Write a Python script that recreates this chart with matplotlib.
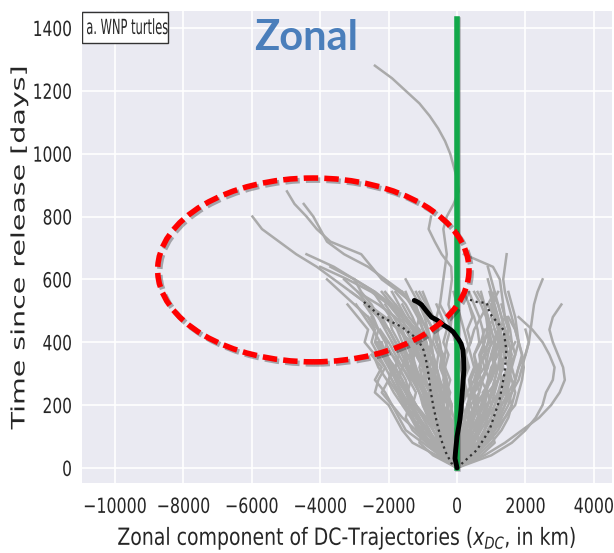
import matplotlib
matplotlib.use("Agg")
import matplotlib.pyplot as plt
import matplotlib.patheffects as pe
from matplotlib.patches import Ellipse, Rectangle
from matplotlib.transforms import Affine2D

STEP = 40  # days between stored positions of each gray track

# westward tracks reaching into the circled area (x in km, every 40 days)
west_tracks = [
    [0, -120, -260, -380, -450, -600, -720, -800, -950, -1100, -1350, -1700, -2150, -2600, -3100, -3600, -4100, -4700, -5200, -5700, -5980],
    [0, 80, -50, -200, -300, -280, -450, -520, -600, -700, -780, -900, -1050, -1250, -1700, -2200, -2500, -2800, -3700, -4100, -4400, -4750, -4970],
    [0, -60, -180, -250, -330, -400, -500, -620, -700, -820, -900, -1000, -1150, -1350, -1600, -2100, -2600, -3300, -3800, -4000, -4200, -4480],
    [0, -100, -250, -300, -450, -550, -600, -700, -850, -1000, -1200, -1400, -1700, -2000, -2400, -3000, -3700],
    [0, -40, -150, -300, -380, -500, -650, -700, -800, -900, -1050, -1250, -1500, -1900, -2400, -3000, -3600, -4400],
    [0, -80, -200, -350, -420, -480, -600, -750, -900, -1000, -1100, -1300, -1600, -2000, -2500, -3200, -4000],
    [0, -100, -250, -400, -500, -650, -800, -900, -1000, -1200, -1400, -1700, -2100, -2600, -3100],
    [0, -50, -150, -250, -400, -500, -600, -800, -1000, -1100, -1300, -1500, -1800, -2300, -2900, -3300],
    [0, -150, -300, -500, -700, -900, -1100, -1250, -1400, -1600, -1800, -2000, -2300, -2700],
    [0, -600, -1300, -1600, -1800, -2000, -2400, -2300, -2100, -2400, -2700, -2600, -2900, -3200],
    [0, -500, -1000, -1500, -1700, -1900, -2200, -2000, -1800, -2100, -2300],
    [0, -300, -800, -1200, -1100, -1400, -1600, -1800, -1600, -1500, -1800, -2000, -2200],
    [0, -400, -900, -1300, -1500, -1400, -1700, -1900],
    [0, -200, -500, -350, -650, -800, -700, -1000, -900, -1150, -1300, -1200, -1500, -1800, -2100],
    [0, -700, -1100, -1000, -1300, -1500, -1400, -1700, -1600, -1900],
    [0, -200, -450, -600, -800, -950, -1100, -1300, -1500, -1700, -1900, -2100, -2300, -2500, -2800, -3000],
    [0, -100, -300, -500, -700, -850, -1000, -1150, -1300, -1450, -1600, -1750, -1950, -2200, -2450],
    [0, -300, -600, -900, -1200, -1500, -1700, -1900, -2100, -2300, -2500, -2400, -2600],
    [0, -350, -800, -1200, -1600, -1900, -2100, -2400, -2200, -2500],
    [0, -250, -500, -700, -900, -1200, -1400, -1500, -1700, -1900, -2100, -2300, -2600, -3000, -3400, -3800],
    [0, -300, -650, -900, -1150, -1400, -1650, -1800, -2000, -2200, -2400, -2300, -2500],
    [0, -250, -550, -850, -1100, -1350, -1500, -1750, -1950, -2150, -2050, -2300, -2450, -2700],
    [0, -400, -750, -1050, -1300, -1550, -1750, -2000, -1900, -2150, -2350],
    [0, -150, -450, -700, -950, -1200, -1400, -1600, -1850, -2050, -2250, -2450, -2700, -2950],
    [0, -350, -600, -800, -1000, -1250, -1450, -1350, -1600, -1800, -2000, -2250],
    [0, -200, -350, -550, -750, -900, -1100, -1250, -1450, -1600, -1800, -2000, -2300, -2600, -2900],
    [0, -450, -850, -1150, -1350, -1600, -1850, -2050, -2300, -2450],
]

# tracks of the dense central fan
core_tracks = [
    [0, -100, -300, -400, -350, -500, -600, -700, -650, -800, -900, -1000, -1100, -1200],
    [0, 100, 50, -100, -200, -150, -300, -400, -350, -500, -600, -700, -900],
    [0, -200, -400, -500, -700, -900, -800, -1000, -1100, -1000, -1200, -1400],
    [0, 150, 300, 250, 400, 500, 450, 600, 700, 650, 800, 900, 850, 700, 500],
    [0, 200, 400, 600, 700, 900, 1000, 1100, 1200, 1300, 1200, 1100, 1000],
    [0, 300, 600, 800, 1000, 1100, 1200, 1400, 1500, 1400, 1300],
    [0, -50, -100, 0, 100, 50, 150, 200, 100, 50, -50, -150, -300, -500],
    [0, 50, 200, 300, 200, 300, 400, 350, 500, 400, 300, 200, 100, 0, -100],
    [0, -100, -50, -200, -300, -250, -400, -350, -500, -450, -600, -550, -700, -900, -1100],
    [0, 100, 200, 400, 500, 700, 800, 900, 1000, 1200, 1300, 1400, 1300, 1200, 1000, 900],
    [0, 200, 500, 700, 900, 1100, 1300, 1500, 1600, 1500, 1700],
    [0, -300, -500, -700, -800, -1000, -1100, -1300, -1200, -1400],
    [0, -100, -300, -600, -800, -900, -1000, -1200, -1400, -1500, -1700, -1900, -2000],
    [0, 300, 500, 400, 600, 800, 900, 700, 900, 1000, 1100, 1000, 900, 800, 600],
    [0, 100, 0, -100, -200, -400, -500, -600, -800, -1000, -1200, -1300, -1500, -1700, -1900],
    [0, -200, -100, -300, -400, -600, -500, -700, -900, -800, -1000],
    [0, 400, 700, 900, 1100, 1300, 1200, 1400, 1500, 1400, 1200, 1300, 1100, 900],
    [0, 200, 100, 300, 200, 400, 300, 500, 600, 500, 700, 800],
    [0, -150, -250, -100, -200, -300, -200, -350, -450, -400, -600, -700, -900, -1000, -1200],
    [0, 50, -50, 50, 150, 100, 250, 150, 300, 200, 400, 500, 700, 900, 1100],
    [0, -400, -700, -900, -1200, -1300, -1500, -1600, -1800, -1700, -1900],
    [0, -300, -600, -1000, -1100, -1300, -1200, -1400, -1600, -1500],
    [0, 300, 700, 1000, 1200, 1300, 1500, 1400, 1600, 1500, 1400],
    [0, 500, 900, 1200, 1400, 1600, 1700, 1600, 1500, 1700, 1600, 1400],
    [0, -100, -200, -400, -600, -700, -900, -1100, -1000, -1200, -1300, -1500, -1600, -1800],
    [0, 200, 300, 500, 700, 600, 800, 1000, 1100, 1000, 1200, 1300, 1200, 1100, 1000],
    [0, -200, -400, -300, -500, -700, -800, -600, -800, -1000, -900, -1100],
    [0, 100, 300, 200, 400, 300, 500, 700, 600, 800, 900, 1000, 900, 800],
    [0, -500, -800, -1100, -1300, -1200, -1500, -1700, -1900, -2100, -2200],
    [0, 600, 1000, 1300, 1500, 1600, 1500, 1700, 1600, 1500, 1400, 1500],
    [0, 300, 600, 800, 1000, 1200, 1400, 1500, 1600, 1700, 1800, 1750, 1700, 1600, 1500],
    [0, -250, -150, -400, -300, -550, -450, -700, -600, -850, -750, -1000],
    [0, 250, 150, 400, 300, 550, 450, 700, 600, 850, 750, 1000, 900],
    [0, -350, -200, -500, -650, -500, -800, -950, -800, -1100, -1250, -1100, -1400, -1600],
    [0, 350, 200, 500, 650, 500, 800, 950, 800, 1100, 1250, 1100],
    [0, -150, -300, -200, -450, -600, -500, -750, -900, -800, -1050, -1200, -1100, -1350, -1500],
    [0, 150, 300, 200, 450, 600, 500, 750, 900, 800, 1050, 1200, 1100, 1000],
    [0, -450, -650, -550, -850, -1000, -900, -1200, -1350, -1250, -1500],
    [0, 450, 650, 550, 850, 1000, 900, 1200, 1350, 1250, 1500, 1400],
    [0, -50, -200, -100, -250, -150, -300, -200, -350, -250, -400, -300, -450, -600],
    [0, 50, 200, 100, 250, 150, 300, 200, 350, 250, 400, 300, 450, 350, 200],
    [0, 700, 1100, 1000, 1300, 1200, 1400, 1300, 1500],
    [0, 250, 500, 400, 700, 850, 750, 1000, 1150, 1050, 1300, 1250, 1400, 1300],
    [0, -100, -350, -250, -500, -400, -650, -550, -800, -700, -950, -850, -1100, -1300, -1600],
    [0, 100, 350, 250, 500, 400, 650, 550, 800, 700, 950, 850, 1100, 1000, 1200],
    [0, 350, 700, 1000, 1200, 1400, 1600, 1700, 1800, 1900, 1800, 1700, 1500],
    [0, 500, 800, 1100, 1300, 1500, 1600, 1700, 1800, 2000, 2100, 2000],
    [0, 150, 400, 600, 750, 900, 1050, 1200, 1300, 1400, 1500, 1400, 1300, 1200, 1100, 1000, 900],
    [0, -50, -300, -500, -600, -750, -900, -1050, -1200, -1300, -1450, -1600, -1700, -1900, -2200],
    [0, -200, -300, -350, -500, -600, -700, -800, -900, -950, -1050, -1150, -1300, -1500, -1800],
    [0, -100, -250, -450, -600, -800, -950, -1100, -1250, -1350, -1500, -1650, -1850, -2100],
    [0, 400, 600, 800, 900, 1000, 1200, 1300, 1250, 1400, 1350, 1500, 1400],
    [0, 250, 450, 650, 800, 900, 1000, 1100, 1200, 1250, 1300, 1200, 1100, 1000],
    [0, 550, 850, 1100, 1250, 1400, 1450, 1550, 1500, 1600, 1500],
    [0, 200, 350, 500, 600, 750, 850, 950, 1050, 1150, 1100, 1250, 1150, 1050, 950],
    [0, -50, 50, 150, 250, 350, 450, 550, 650, 700, 800, 750, 650, 500, 350],
    [0, 150, 100, 200, 350, 300, 450, 400, 550, 500, 650, 600, 500, 350],
    [0, -50, -150, -250, -300, -400, -450, -550, -600, -700, -750, -850, -950, -1100, -1300, -1500],
    [0, 0, -100, -150, -100, -200, -250, -300, -400, -450, -500, -600, -700, -850, -1000],
    [0, 450, 750, 950, 1150, 1250, 1350, 1450, 1500, 1550, 1600, 1550, 1450],
    [0, 100, 250, 350, 450, 550, 650, 750, 850, 900, 1000, 950, 900, 800, 700],
]

# eastward and long-lived tracks
east_tracks = [
    [0, 800, 1400, 1900, 2400, 2750, 3000, 3150, 3100, 2950, 2800, 2700, 2800, 3050],
    [0, 1000, 1600, 2000, 2300, 2500, 2600, 2800, 2850, 2700, 2500, 2200, 1800],
    [0, 300, 600, 900, 1100, 1300, 1600, 1800, 1900, 2000, 2100, 2150, 2200, 2250, 2350, 2500],
    [0, 400, 800, 1100, 1400, 1700, 1800, 1900, 1950, 1900, 1800, 1700, 1600, 1500, 1400, 1350, 1400, 1450],
    [0, 200, 400, 600, 800, 1000, 1100, 1200, 1300, 1400, 1450, 1500, 1400, 1350, 1300, 1250, 1050, 200],
    [0, -100, -200, -150, -300, -250, -350, -300, -400, -350, -300, -200, -150, -250, -200, -150, -170, -450, -650, -830, -760],
    [0, -100, -200, -150, -300, -400, -350, -500, -600, -550, -700, -650, -600, -500, -450, -400, -350, -300, -350,
     -400, -300, -100, 50, 0, -100, -200, -350, -550, -800, -1100, -1500, -1900, -2400],
]

# ensemble mean trajectory
mean_days = [0, 30, 57, 100, 150, 185, 250, 312, 350, 375, 395, 407, 420, 433, 445, 455, 470, 480, 500, 519, 528, 533]
mean_x = [0, -60, -40, 0, 80, 115, 160, 200, 190, 172, 120, 57, -30, -115, -250, -400, -580, -750, -900, -1035, -1150, -1250]

# dotted spread lines
left_days = [0, 16, 50, 89, 140, 194, 250, 302, 340, 375, 400, 417, 449, 480, 505, 528]
left_x = [0, -170, -330, -460, -580, -690, -780, -840, -900, -980, -1100, -1240, -1620, -2200, -2480, -2720]
right_days = [0, 57, 121, 216, 302, 375, 439, 465, 493, 525, 528, 535]
right_x = [0, 580, 950, 1240, 1390, 1440, 1360, 1160, 950, 870, 580, 380]


class Squeeze(pe.AbstractPathEffect):
    """narrow text horizontally, like the squashed original figure"""

    def __init__(self, sx=0.7, anchor="center"):
        super().__init__()
        self.sx = sx
        self.anchor = anchor

    def draw_path(self, renderer, gc, tpath, affine, rgbFace=None):
        ext = tpath.get_extents(affine)
        ref = {"left": ext.x0, "right": ext.x1}.get(self.anchor, (ext.x0 + ext.x1) / 2)
        t = affine + Affine2D().translate(-ref, 0).scale(self.sx, 1).translate(ref, 0)
        renderer.draw_path(gc, tpath, t, rgbFace)


fig = plt.figure(figsize=(6.14, 5.53), dpi=100)
ax = fig.add_axes([0.1336, 0.1266, 0.8632, 0.8535])
ax.set_facecolor("#eaeaf2")
for s in ax.spines.values():
    s.set_visible(False)
ax.set_axisbelow(True)
ax.grid(color="white", lw=1.2)

for tr in west_tracks + core_tracks + east_tracks:
    days = [STEP * i for i in range(len(tr))]
    ax.plot(tr, days, color="#aaaaaa", lw=1.8, zorder=2)

ax.plot(left_x, left_days, color="#333333", ls=":", lw=1.6, zorder=3)
ax.plot(right_x, right_days, color="#333333", ls=":", lw=1.6, zorder=3)

ax.plot([0, 0], [0, 1430], color="#12a84a", lw=4, zorder=4,
        path_effects=[pe.SimpleLineShadow(offset=(1, -1), alpha=0.25), pe.Normal()])
ax.plot(mean_x, mean_days, color="black", lw=3.5, zorder=5, solid_capstyle="round")

ell = Ellipse((-4200, 630), 9100, 585, fill=False, edgecolor="red", lw=4,
              ls=(0, (2.6, 1.1)), zorder=6)
ell.set_path_effects([pe.SimpleLineShadow(offset=(1.5, -1.5), alpha=0.3), pe.Normal()])
ax.add_patch(ell)

ax.text(-4420, 1368, "Zonal", color="#4a7ebb", fontsize=30, fontweight="bold",
        family="Lato", ha="center", va="center")

# label box in the top-left corner
ax.add_patch(Rectangle((0.0, 0.932), 0.162, 0.066, transform=ax.transAxes,
                       fc="white", ec="#333333", lw=1, zorder=7))
ax.text(0.007, 0.964, "a. WNP turtles", transform=ax.transAxes, ha="left", va="center",
        fontsize=15, color="#262626", zorder=8, path_effects=[Squeeze(0.55, "left")])

ax.set_xlim(-10960, 4530)
ax.set_ylim(-48, 1454)
ax.set_xticks(range(-10000, 4001, 2000))
ax.set_yticks(range(0, 1401, 200))
ax.tick_params(length=0, labelsize=15, labelcolor="#262626")
ax.tick_params(axis="x", pad=10)
ax.tick_params(axis="y", pad=7)
for lab in ax.get_xticklabels():
    lab.set_path_effects([Squeeze(0.76, "center")])
for lab in ax.get_yticklabels():
    lab.set_path_effects([Squeeze(0.74, "right")])

ax.set_xlabel("Zonal component of DC-Trajectories ($x_{DC}$, in km)",
              fontsize=17, color="#262626", labelpad=5,
              path_effects=[Squeeze(0.8, "center")])
ax.set_ylabel("Time since release [days]", fontsize=20.5, color="#262626", labelpad=-10,
              path_effects=[Squeeze(0.65, "center")])

fig.savefig("out.png", dpi=100)
